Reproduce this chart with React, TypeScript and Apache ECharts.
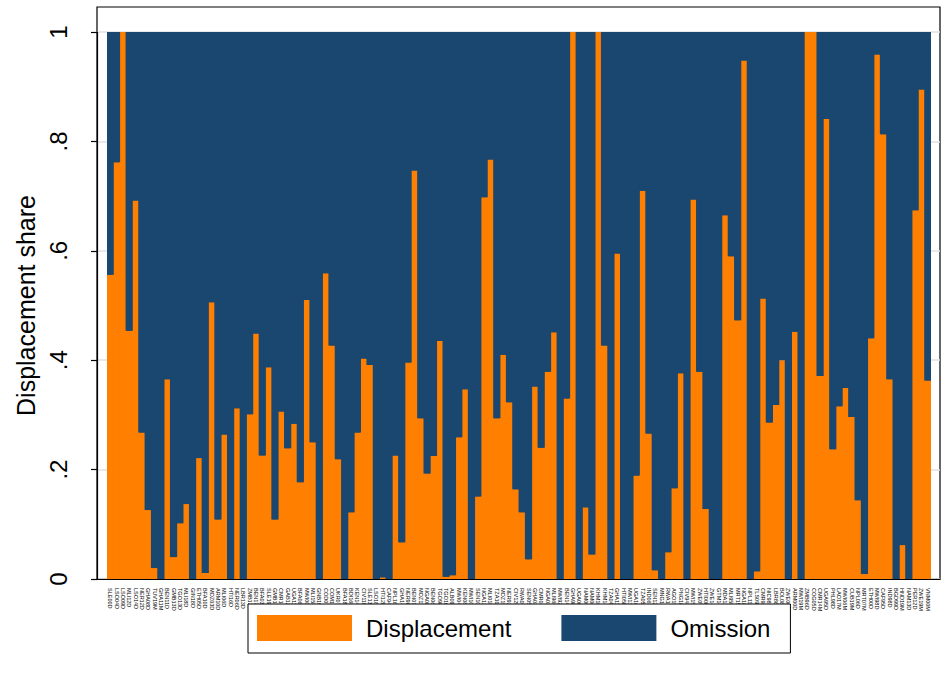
import React, { useEffect, useRef } from "react";
import * as echarts from "echarts";

// Survey identifiers (country code + year + survey type), in plotted order
const surveys = [
  "SLE00D", "LSO04D", "LSO09D", "MLI12D", "LSO14D", "NER12D", "GHA08D", "TUV19M", "GHA11M", "BEN11D",
  "GMB13D", "TGO13D", "MLI18D", "GIN18D", "ETH05D", "BFA10D", "MOZ03D", "ARM10D", "MLI06D", "HTI16D",
  "NER06D", "LBR13D", "ZMB13D", "BEN17D", "BFA03D", "SLE19D", "GMB18M", "CMR18M", "GAB12D", "UGA11D",
  "BFA06D", "MWI00D", "MLI15M", "GNB19M", "COD07D", "COM12D", "UKR07D", "BFA18D", "BDI16D", "KEN14D",
  "CIV11D", "SLE13D", "LSO18D", "HTI12D", "CAF94D", "NPL16D", "GHA14D", "NER98D", "BEN01D", "MOZ11D",
  "NGA08D", "BEN06D", "TGO98D", "TGO10M", "ALB09D", "MWI04D", "KEN08D", "MWI10D", "SEN10D", "NGA13D",
  "MLI01D", "TZA10D", "MOZ15D", "NER92D", "CIV12D", "RWA05D", "SEN05D", "GHA03D", "CMR04D", "NGA03D",
  "MLI96D", "MWI92D", "BEN14M", "GHA98D", "UGA00D", "NAM00D", "NAM06D", "KHM10D", "KHM14D", "TZA04D",
  "GHA11D", "HTI05D", "MWI13M", "UGA16D", "TZA05D", "IND06D", "SEN12D", "MNG13M", "RWA14D", "AGO15D",
  "PNG18D", "CIV94D", "MWI15D", "ZWE05D", "HTI00D", "ZWE14M", "GTM14M", "MDA12M", "MLI95D", "MRT15M",
  "NGA18D", "NPL11D", "TLS09D", "CMR98D", "NIC98D", "LBR86D", "BOL08D", "ZWE06D", "ARM00D", "MWI19M",
  "ZMB96D", "COG05D", "CMR14M", "UGA95D", "PHL98D", "LAO17M", "MWI06M", "CUB19M", "NPL06D", "MRT07M",
  "ETH00D", "MWI98D", "CAF95D", "IND98D", "BGD99D", "HND19M", "NAM13D", "PER12D", "ZWE19M", "VNM00M",
];

// Share of the gap attributed to displacement
const displacement = [
  0.556, 0.762, 1.0, 0.454, 0.692, 0.268, 0.126, 0.02, 0, 0.365,
  0.04, 0.102, 0.137, 0, 0.221, 0.011, 0.506, 0.109, 0.264, 0,
  0.312, 0, 0.301, 0.449, 0.226, 0.387, 0.109, 0.306, 0.239, 0.284,
  0.177, 0.51, 0.25, 0, 0.559, 0.427, 0.219, 0, 0.122, 0.268,
  0.403, 0.391, 0, 0.003, 0, 0.226, 0.067, 0.396, 0.747, 0.294,
  0.193, 0.225, 0.435, 0.004, 0.007, 0.259, 0.347, 0, 0.151, 0.698,
  0.767, 0.294, 0.41, 0.323, 0.164, 0.122, 0.036, 0.352, 0.24, 0.379,
  0.451, 0, 0.33, 1.0, 0, 0.131, 0.045, 1.0, 0.427, 0,
  0.595, 0, 0, 0.189, 0.71, 0.266, 0.016, 0, 0.049, 0.166,
  0.376, 0, 0.694, 0.379, 0.128, 0, 0, 0.665, 0.59, 0.473,
  0.948, 0, 0.014, 0.513, 0.286, 0.318, 0.4, 0, 0.452, 0,
  1.0, 1.0, 0.371, 0.841, 0.237, 0.316, 0.349, 0.296, 0.144, 0.009,
  0.44, 0.959, 0.813, 0.365, 0, 0.062, 0, 0.674, 0.895, 0.363,
];

// The remainder of each share is omission
const omission = displacement.map((d) => Number((1 - d).toFixed(3)));

const yTickLabels = ["0", ".2", ".4", ".6", ".8", "1"];

const FONT = "'Liberation Sans', Arial, Helvetica, sans-serif";
const ORANGE = "#FF7F00";
const NAVY = "#1A476F";

export default function App() {
  const ref = useRef<HTMLDivElement>(null);

  useEffect(() => {
    if (!ref.current) return;
    const chart = echarts.init(ref.current, null, { renderer: "svg" });

    chart.setOption({
      animation: false,
      backgroundColor: "#fff",
      textStyle: { fontFamily: FONT },
      grid: [
        // outer plot frame
        { left: 97, right: 10, top: 7, bottom: 96, show: true, borderColor: "#000", borderWidth: 1.2, backgroundColor: "transparent" },
        // value frame: y axis, gridlines, baseline
        { left: 97, right: 10, top: 32, bottom: 96 },
        // bars
        { left: 107, right: 19, top: 32, bottom: 96, show: true, borderWidth: 0, backgroundColor: NAVY },
      ],
      xAxis: [
        { gridIndex: 0, type: "value", show: false, min: 0, max: 1 },
        {
          gridIndex: 1, type: "value", min: 0, max: 1, z: 5,
          axisLine: { show: true, lineStyle: { color: "#000", width: 1.2 } },
          axisTick: { show: false }, axisLabel: { show: false }, splitLine: { show: false },
        },
        {
          gridIndex: 2, type: "category", data: surveys,
          axisLine: { show: false }, axisTick: { show: false },
          axisLabel: {
            interval: 0, rotate: -90, fontSize: 5.5, margin: 9, color: "#000", fontFamily: FONT,
          },
        },
      ],
      yAxis: [
        { gridIndex: 0, type: "value", show: false, min: 0, max: 1 },
        {
          gridIndex: 1, type: "value", min: 0, max: 1, interval: 0.2,
          name: "Displacement share", nameLocation: "middle", nameGap: 56,
          nameTextStyle: { fontSize: 25, color: "#000", fontFamily: FONT },
          axisLine: { show: true, lineStyle: { color: "#000", width: 1.2 } },
          axisTick: { show: true, length: 6, lineStyle: { color: "#000", width: 1.2 } },
          axisLabel: {
            rotate: 90, fontSize: 24, margin: 27, color: "#000", fontFamily: FONT,
            formatter: (_v: number, i: number) => yTickLabels[i],
          },
          splitLine: { show: true, lineStyle: { color: "#e2e2e2", width: 1.5 } },
        },
        { gridIndex: 2, type: "value", min: 0, max: 1, show: false },
      ],
      legend: {
        data: ["Displacement", "Omission"],
        left: 248, top: 604,
        icon: "rect", itemWidth: 95, itemHeight: 26, itemGap: 50,
        padding: [11, 20, 12, 9],
        borderColor: "#000", borderWidth: 1, backgroundColor: "#fff",
        textStyle: { fontSize: 24, color: "#000", fontFamily: FONT, padding: [0, 0, 0, 9] },
      },
      series: [
        {
          name: "Displacement", type: "bar", stack: "share",
          xAxisIndex: 2, yAxisIndex: 2, data: displacement,
          barWidth: "114%",
          itemStyle: { color: ORANGE },
        },
        {
          name: "Omission", type: "bar", stack: "share",
          xAxisIndex: 2, yAxisIndex: 2, data: omission,
          barWidth: "114%",
          itemStyle: { color: NAVY },
        },
      ],
    });

    return () => chart.dispose();
  }, []);

  return (
    <div
      ref={ref}
      style={{ position: "absolute", left: 0, top: 0, width: 950, height: 675 }}
    />
  );
}
